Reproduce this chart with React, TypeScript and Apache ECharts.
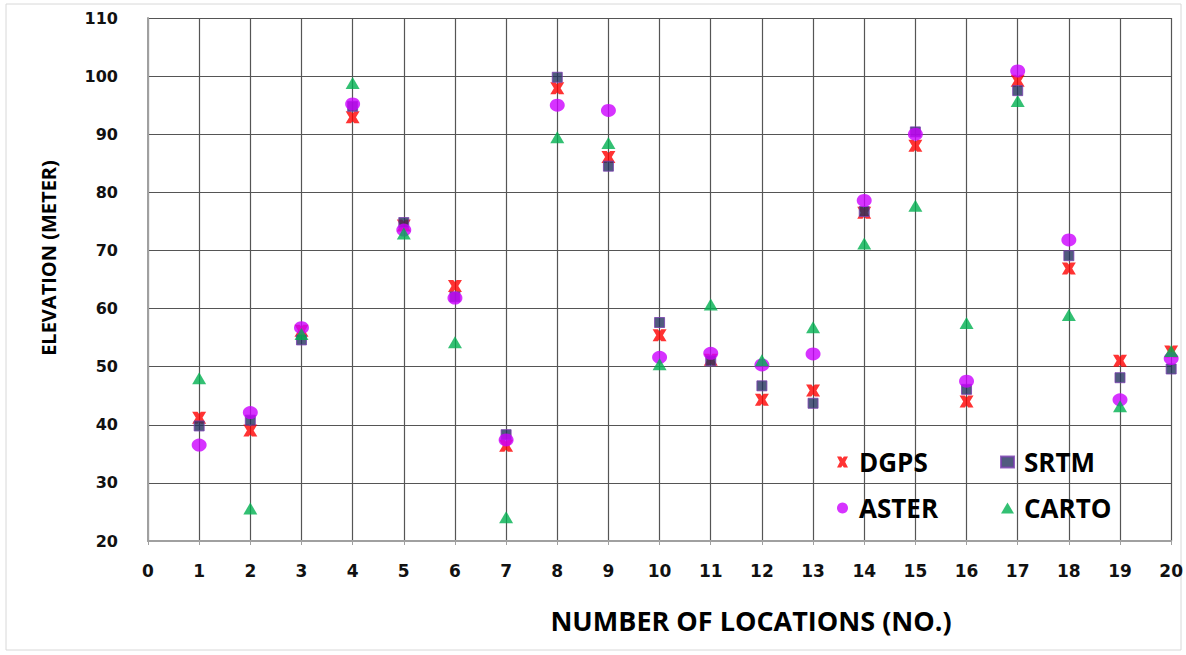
import React, { useEffect, useRef } from "react";
import * as echarts from "echarts";

const locations = [1, 2, 3, 4, 5, 6, 7, 8, 9, 10, 11, 12, 13, 14, 15, 16, 17, 18, 19, 20];
const dgps = [41.2, 39.0, 56.2, 92.9, 74.3, 63.9, 36.4, 97.9, 86.1, 55.4, 51.2, 44.3, 45.9, 76.5, 88.0, 44.0, 99.2, 66.9, 51.0, 52.6];
const srtm = [39.8, 40.8, 54.6, 94.8, 74.8, 62.0, 38.3, 99.8, 84.5, 57.6, 51.0, 46.7, 43.7, 76.7, 90.4, 46.1, 97.5, 69.1, 48.1, 49.6];
const aster = [36.5, 42.1, 56.7, 95.2, 73.5, 61.8, 37.4, 95.0, 94.1, 51.6, 52.3, 50.3, 52.2, 78.6, 90.0, 47.5, 100.9, 71.8, 44.3, 51.4];
const carto = [48.0, 25.6, 55.6, 98.8, 72.9, 54.2, 24.1, 89.5, 88.5, 50.4, 60.7, 51.1, 56.8, 71.2, 77.7, 57.5, 95.7, 58.9, 43.2, 52.7];

const xTitle = "NUMBER OF LOCATIONS (NO.)";
const yTitle = "ELEVATION (METER)";

const X_SYMBOL =
  "path://M0,0 L3.8,0 L5,1.8 L6.2,0 L10,0 L7.4,5 L10,10 L6.2,10 L5,8.2 L3.8,10 L0,10 L2.6,5 Z";

const pair = (vals: number[]) => vals.map((v, i) => [locations[i], v]);

export default function App() {
  const ref = useRef<HTMLDivElement>(null);
  useEffect(() => {
    document.body.style.margin = "0";
    const chart = echarts.init(ref.current!, null, { renderer: "svg" });
    const tickFont = { fontFamily: "DejaVu Sans", fontWeight: "bold" as const, fontSize: 16, color: "#111" };
    const legendText = { fontFamily: "Open Sans", fontWeight: "bold" as const, fontSize: 26, color: "#000", lineHeight: 26, padding: [0, 0, 0, 5] };
    chart.setOption({
      animation: false,
      backgroundColor: "#fff",
      grid: { left: 148, right: 13, top: 18, bottom: 114, containLabel: false },
      xAxis: {
        type: "value",
        min: 0,
        max: 20,
        interval: 1,
        axisLine: { show: true, lineStyle: { color: "#a0a0a0", width: 2 } },
        axisTick: { show: true, length: 4, lineStyle: { color: "#a0a0a0" } },
        axisLabel: { ...tickFont, fontSize: 17, margin: 21 },
        splitLine: { show: true, lineStyle: { color: "#555", width: 1.2 } },
      },
      yAxis: {
        type: "value",
        min: 20,
        max: 110,
        interval: 10,
        axisLine: { show: true, lineStyle: { color: "#a0a0a0", width: 2 } },
        axisTick: { show: false },
        axisLabel: { ...tickFont, margin: 30 },
        splitLine: { show: true, lineStyle: { color: "#555", width: 1.2 } },
      },
      legend: [
        {
          orient: "vertical",
          left: 832,
          top: 444,
          itemWidth: 13,
          itemHeight: 11,
          itemGap: 20,
          data: ["DGPS", "ASTER"],
          textStyle: legendText,
        },
        {
          orient: "vertical",
          left: 995,
          top: 444,
          itemWidth: 13,
          itemHeight: 11,
          itemGap: 20,
          data: ["SRTM", "CARTO"],
          textStyle: legendText,
        },
      ],
      graphic: [
        {
          type: "rect",
          shape: { x: 6, y: 4, width: 1175, height: 646 },
          style: { fill: "none", stroke: "#d8d8d8", lineWidth: 1 },
          silent: true,
          z: -1,
        },
        {
          type: "text",
          x: 751,
          y: 620,
          style: {
            text: xTitle,
            fontFamily: "Open Sans",
            fontWeight: "bold",
            fontSize: 27,
            fill: "#000",
            align: "center",
            verticalAlign: "middle",
          },
        },
        {
          type: "text",
          x: 48,
          y: 258,
          rotation: Math.PI / 2,
          style: {
            text: yTitle,
            fontFamily: "Open Sans",
            fontWeight: "bold",
            fontSize: 20,
            fill: "#000",
            align: "center",
            verticalAlign: "middle",
          },
        },
      ],
      series: [
        {
          name: "DGPS",
          type: "scatter",
          symbol: X_SYMBOL,
          symbolSize: [14, 12],
          itemStyle: { color: "#ff0000" },
          data: pair(dgps),
          z: 2,
        },
        {
          name: "SRTM",
          type: "scatter",
          symbol: "rect",
          symbolSize: 10,
          itemStyle: { color: "#24325e", borderColor: "#7a3fb0", borderWidth: 1 },
          data: pair(srtm),
          z: 3,
        },
        {
          name: "ASTER",
          type: "scatter",
          symbol: "circle",
          symbolSize: [15, 13],
          itemStyle: { color: "#cc00ff" },
          data: pair(aster),
          z: 4,
        },
        {
          name: "CARTO",
          type: "scatter",
          symbol: "triangle",
          symbolSize: [14, 12],
          itemStyle: { color: "#00b050" },
          data: pair(carto),
          z: 5,
        },
      ],
    });
    return () => chart.dispose();
  }, []);
  return <div ref={ref} style={{ width: 1186, height: 655 }} />;
}
